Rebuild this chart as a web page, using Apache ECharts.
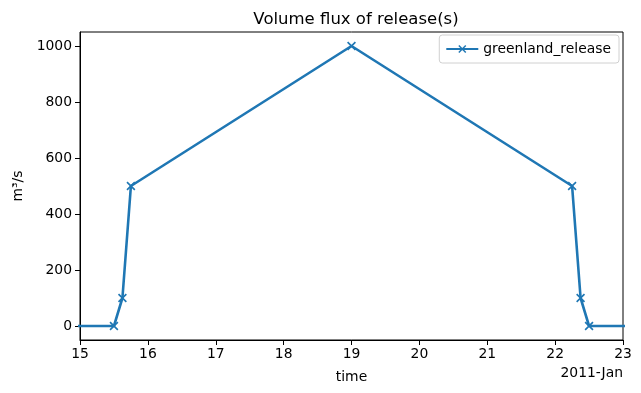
<!DOCTYPE html>
<html>
<head>
<meta charset="utf-8">
<script src="https://cdn.jsdelivr.net/npm/echarts@6/dist/echarts.min.js"></script>
<style>
  html, body { margin: 0; padding: 0; background: #fff; }
  #chart { width: 641px; height: 393px; }
</style>
</head>
<body>
<div id="chart"></div>
<script>
  // release time series (day of Jan 2011, m3/s)
  var releaseDays = [14.5, 15.5, 15.625, 15.75, 19, 22.25, 22.375, 22.5, 23.5];
  var releaseFlux = [0, 0, 100, 500, 1000, 500, 100, 0, 0];
  var yTicks = [0, 200, 400, 600, 800, 1000];

  var xMark = 'path://M0,1.3L1.3,0L10,8.7L8.7,10Z M8.7,0L10,1.3L1.3,10L0,8.7Z';
  var blue = '#1f77b4';
  var font = 'DejaVu Sans';

  var chart = echarts.init(document.getElementById('chart'));
  chart.setOption({
    animation: false,
    textStyle: { fontFamily: font, color: '#000' },
    title: {
      text: 'Volume flux of release(s)',
      left: 351, top: 6, textAlign: 'center',
      textStyle: { fontFamily: font, fontSize: 16.5, fontWeight: 'normal', color: '#000' }
    },
    legend: {
      right: 22, top: 35,
      data: ['greenland_release'],
      itemWidth: 32, itemHeight: 10, itemGap: 10,
      borderColor: '#d0d0d0', borderWidth: 1, borderRadius: 3,
      padding: [7, 8, 7, 6],
      textStyle: { fontFamily: font, fontSize: 13.9, color: '#000' }
    },
    grid: {
      left: 80, right: 18, top: 32, bottom: 53,
      show: true, borderColor: '#000', borderWidth: 1
    },
    xAxis: {
      type: 'value', min: 15, max: 23, interval: 1,
      name: 'time', nameLocation: 'middle', nameGap: 30,
      nameTextStyle: { fontFamily: font, fontSize: 13.9, color: '#000' },
      axisLine: { show: true, onZero: false, lineStyle: { color: '#000' } },
      axisTick: { show: true, length: 5, lineStyle: { color: '#000' } },
      axisLabel: { fontFamily: font, fontSize: 13.9, color: '#000', margin: 7 },
      splitLine: { show: false }
    },
    yAxis: {
      type: 'value', min: -50, max: 1050,
      name: 'm³/s', nameLocation: 'middle', nameGap: 52,
      nameTextStyle: { fontFamily: font, fontSize: 13.9, color: '#000' },
      axisLine: { show: true, lineStyle: { color: '#000' } },
      axisTick: { show: true, length: 5, customValues: yTicks, lineStyle: { color: '#000' } },
      axisLabel: {
        fontFamily: font, fontSize: 13.9, color: '#000', margin: 8,
        customValues: yTicks,
        formatter: function (v) { return String(v); }
      },
      splitLine: { show: false }
    },
    graphic: [{
      type: 'text', right: 18, top: 366,
      style: { text: '2011-Jan', fontFamily: font, fontSize: 13.9, fill: '#000' }
    }],
    series: [{
      name: 'greenland_release',
      type: 'line',
      clip: true,
      data: releaseDays.map(function (d, i) { return [d, releaseFlux[i]]; }),
      symbol: xMark,
      symbolSize: 9,
      showAllSymbol: true,
      lineStyle: { color: blue, width: 2.6 },
      itemStyle: { color: blue },
      emphasis: { disabled: true }
    }]
  });
</script>
</body>
</html>
